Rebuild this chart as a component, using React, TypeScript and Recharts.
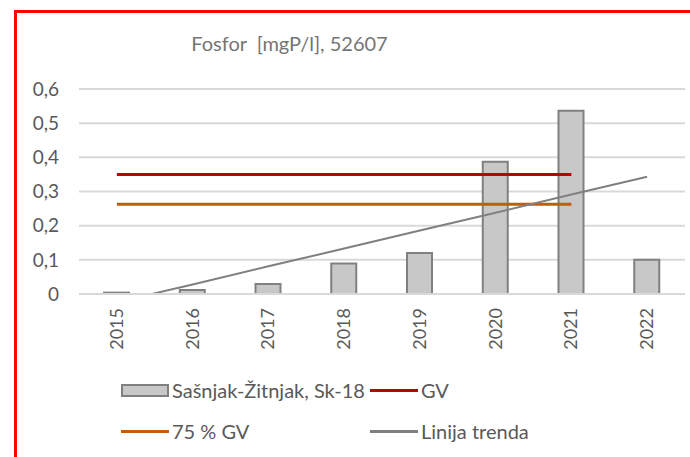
import { ComposedChart, Bar, Line, XAxis, YAxis, CartesianGrid, Legend } from "recharts";

const years = ["2015", "2016", "2017", "2018", "2019", "2020", "2021", "2022"];
const phosphorus = [0.004, 0.012, 0.029, 0.089, 0.12, 0.387, 0.536, 0.1];
const gv = [0.35, 0.35, 0.35, 0.35, 0.35, 0.35, 0.35, null];
const gv75 = [0.2625, 0.2625, 0.2625, 0.2625, 0.2625, 0.2625, 0.2625, null];
const trend = [-0.024, 0.028, 0.081, 0.133, 0.186, 0.238, 0.291, 0.343];
const yTicks = [0, 0.1, 0.2, 0.3, 0.4, 0.5, 0.6];
const legendOrder = ["Sašnjak-Žitnjak, Sk-18", "GV", "75 % GV", "Linija trenda"];

const FONT = "Lato, 'Open Sans', sans-serif";
const TEXT = "#595959";

const data = years.map((year, i) => ({
  year,
  value: phosphorus[i],
  gv: gv[i],
  gv75: gv75[i],
  trend: trend[i],
}));

// rotated year labels under each bar
const renderYearTick = (props: any) => {
  const { x, payload } = props;
  return (
    <text
      x={0}
      y={0}
      transform={`translate(${x + 6}, 308) rotate(-90)`}
      textAnchor="end"
      fill={TEXT}
      fontSize={18}
      fontFamily={FONT}
    >
      {payload.value}
    </text>
  );
};

const renderLegend = (props: any) => {
  const items = [...(props.payload || [])].sort(
    (a: any, b: any) => legendOrder.indexOf(a.value) - legendOrder.indexOf(b.value)
  );
  return (
    <div
      style={{
        display: "grid",
        gridTemplateColumns: "249px 250px",
        rowGap: 19,
        paddingLeft: 121,
        fontFamily: FONT,
        fontSize: 20,
        color: TEXT,
      }}
    >
      {items.map((entry: any) => (
        <div key={entry.value} style={{ display: "flex", alignItems: "center", height: 22 }}>
          {entry.type === "rect" ? (
            <span
              style={{
                width: 44,
                height: 9,
                background: "#c8c8c8",
                border: "2px solid #808080",
                marginRight: 3,
              }}
            />
          ) : (
            <span style={{ width: 48, height: 3, background: entry.color, marginRight: 3 }} />
          )}
          <span>{entry.value}</span>
        </div>
      ))}
    </div>
  );
};

export default function App() {
  return (
    <div style={{ position: "absolute", left: 0, top: 0, width: 690, height: 457, background: "#fff", overflow: "hidden" }}>
      <div
        style={{
          position: "absolute",
          left: 14,
          top: 10,
          width: 700,
          height: 470,
          borderLeft: "3px solid #ff0000",
          borderTop: "3px solid #ff0000",
        }}
      />
      <div
        style={{
          position: "absolute",
          left: 15,
          top: 31,
          width: 549,
          textAlign: "center",
          fontFamily: FONT,
          fontSize: 20,
          color: "#757575",
        }}
      >
        Fosfor&nbsp; [mgP/l], 52607
      </div>
      <div style={{ position: "absolute", left: 0, top: 0 }}>
        <ComposedChart
          width={690}
          height={457}
          data={data}
          margin={{ top: 89, right: 5, bottom: 103, left: 19 }}
          barSize={25}
        >
          <CartesianGrid vertical={false} stroke="#d9d9d9" strokeWidth={2} />
          <XAxis
            dataKey="year"
            axisLine={{ stroke: "#d9d9d9", strokeWidth: 2 }}
            tickLine={false}
            tick={renderYearTick}
            interval={0}
            height={60}
          />
          <YAxis
            width={60}
            domain={[0, 0.6]}
            ticks={yTicks}
            allowDataOverflow
            axisLine={false}
            tickLine={false}
            tickSize={0}
            tickMargin={20}
            tickFormatter={(v: number) => String(v).replace(".", ",")}
            tick={{ fill: TEXT, fontSize: 19, fontFamily: FONT }}
          />
          <Bar
            dataKey="value"
            name="Sašnjak-Žitnjak, Sk-18"
            fill="#c8c8c8"
            stroke="#808080"
            strokeWidth={2}
            legendType="rect"
            isAnimationActive={false}
          />
          <Line
            dataKey="gv"
            name="GV"
            stroke="#c00000"
            strokeWidth={3}
            dot={false}
            legendType="line"
            isAnimationActive={false}
          />
          <Line
            dataKey="gv75"
            name="75 % GV"
            stroke="#c55a11"
            strokeWidth={3}
            dot={false}
            legendType="line"
            isAnimationActive={false}
          />
          <Line
            dataKey="trend"
            name="Linija trenda"
            stroke="#808080"
            strokeWidth={2}
            dot={false}
            legendType="line"
            isAnimationActive={false}
          />
          <Legend
            layout="horizontal"
            verticalAlign="middle"
            content={renderLegend}
            wrapperStyle={{ top: 379, left: 0, width: 690 }}
          />
        </ComposedChart>
      </div>
    </div>
  );
}
